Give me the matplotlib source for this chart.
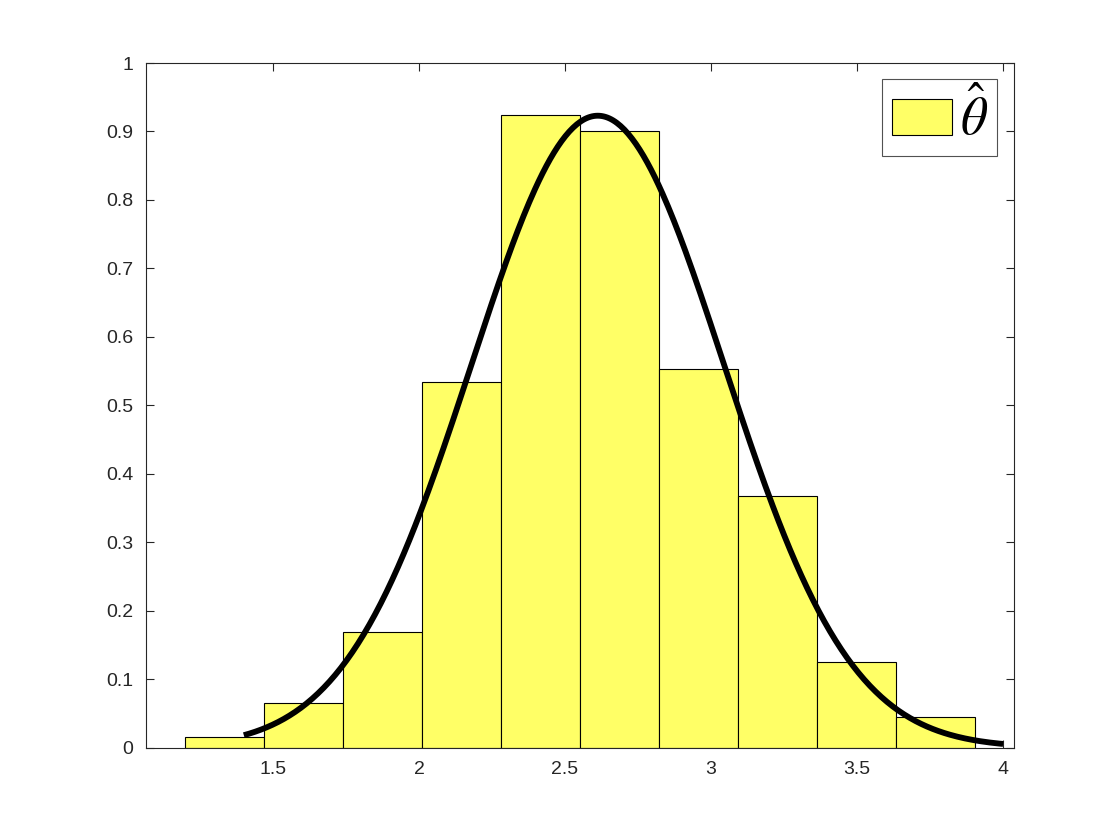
import numpy as np
import matplotlib
matplotlib.use("Agg")
import matplotlib.pyplot as plt

# Histogram bins
bin_left = 1.1973
bin_width = 0.2705
bar_heights = [0.0159, 0.0656, 0.1689, 0.5336, 0.9236, 0.9011, 0.553, 0.3675, 0.125, 0.0447]

# Fitted normal curve parameters (peak location and height)
curve_mu = 2.612
curve_peak = 0.923
curve_x_start = 1.4
curve_x_end = 4.0

x_ticks = [1.5, 2, 2.5, 3, 3.5, 4]
x_tick_labels = ["1.5", "2", "2.5", "3", "3.5", "4"]
y_ticks = [0, 0.1, 0.2, 0.3, 0.4, 0.5, 0.6, 0.7, 0.8, 0.9, 1]
y_tick_labels = ["0", "0.1", "0.2", "0.3", "0.4", "0.5", "0.6", "0.7", "0.8", "0.9", "1"]

plt.rcParams['font.family'] = ['Liberation Sans', 'DejaVu Sans']
plt.rcParams['mathtext.fontset'] = 'stix'

fig = plt.figure(figsize=(11.2, 8.4), dpi=100)
ax = fig.add_axes([0.13, 0.11, 0.775, 0.815])

lefts = bin_left + bin_width * np.arange(len(bar_heights))
ax.bar(lefts, bar_heights, width=bin_width, align='edge',
       color='#FFFF66', edgecolor='black', linewidth=0.8, label=r'$\hat{\theta}$', zorder=2)

sigma = 1.0 / (curve_peak * np.sqrt(2 * np.pi))
xs = np.linspace(curve_x_start, curve_x_end, 400)
ys = curve_peak * np.exp(-0.5 * ((xs - curve_mu) / sigma) ** 2)
ax.plot(xs, ys, color='black', linewidth=4.2, zorder=3, solid_capstyle='butt')

ax.set_xlim(1.0637, 4.036)
ax.set_ylim(0, 1)
ax.set_xticks(x_ticks)
ax.set_xticklabels(x_tick_labels)
ax.set_yticks(y_ticks)
ax.set_yticklabels(y_tick_labels)

edge = '#262626'
for s in ax.spines.values():
    s.set_color(edge)
    s.set_linewidth(0.8)
ax.tick_params(direction='in', length=6, width=0.8, colors=edge, labelsize=14,
               top=True, right=True, labelcolor='#262626')
ax.tick_params(axis='x', pad=10)
ax.tick_params(axis='y', pad=9)

leg = ax.legend(loc='upper right', fontsize=38, frameon=True, fancybox=False,
                edgecolor=edge, handlelength=1.14, handleheight=0.68,
                borderpad=0.18, handletextpad=0.15, borderaxespad=0.31)
leg.get_frame().set_linewidth(0.8)

fig.savefig("out.png", dpi=100)
